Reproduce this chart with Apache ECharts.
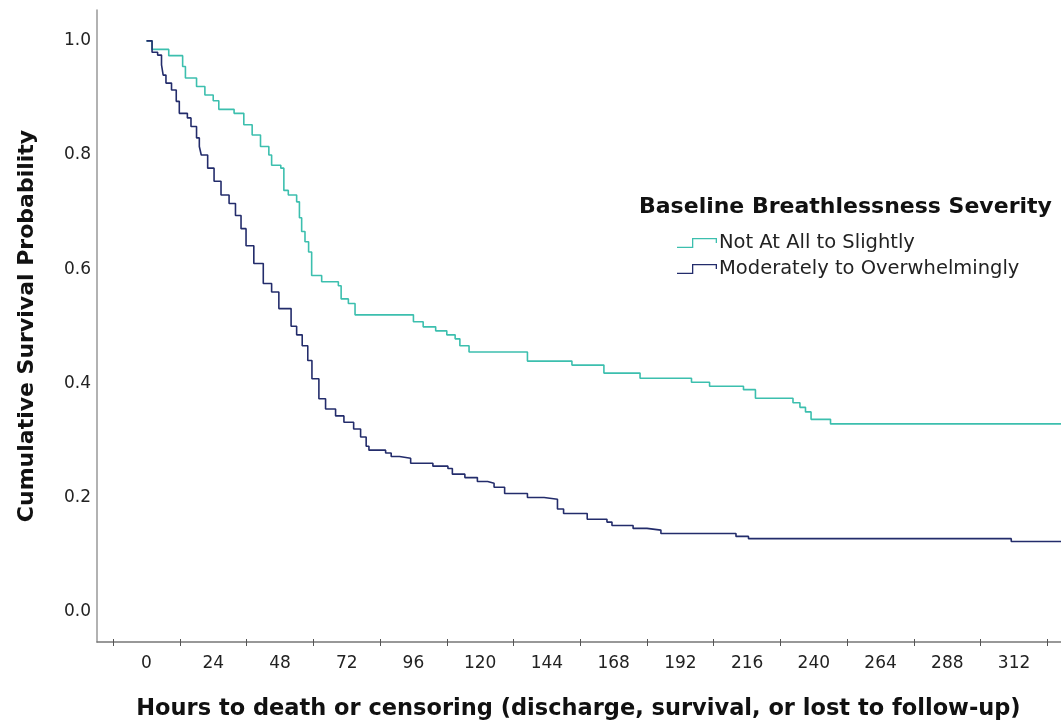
<!DOCTYPE html>
<html>
<head>
<meta charset="utf-8">
<script src="https://cdn.jsdelivr.net/npm/echarts@6/dist/echarts.min.js"></script>
<style>
  html, body { margin: 0; padding: 0; background: #fff; overflow: hidden; }
  #chart { width: 1100px; height: 727px; }
</style>
</head>
<body>
<div id="chart"></div>
<script>
// Kaplan-Meier estimates [hours, cumulative survival]
const notAtAllToSlightly = [
    [0, 1.0], [2, 0.985], [8, 0.974], [13, 0.955], [14, 0.935], [18, 0.92], [21, 0.905],
    [24, 0.895], [26, 0.88], [31.5, 0.873], [35, 0.853], [38, 0.835], [41, 0.815],
    [44, 0.8], [45, 0.782], [48.3, 0.777], [49.4, 0.738], [51, 0.73], [54, 0.718],
    [55, 0.69], [55.8, 0.666], [57, 0.648], [58.3, 0.63], [59.4, 0.589], [63, 0.578],
    [69, 0.571], [70, 0.548], [72.6, 0.54], [75, 0.52], [96, 0.508], [99.5, 0.499],
    [104, 0.492], [108, 0.485], [111, 0.478], [112.7, 0.466], [116, 0.455], [137, 0.439],
    [153, 0.432], [164.5, 0.418], [177.5, 0.409], [196, 0.402], [202.5, 0.395],
    [214.7, 0.389], [219, 0.374], [232.5, 0.366], [235, 0.358], [237, 0.35], [239, 0.337],
    [246, 0.329], [340, 0.329]
];

const moderatelyToOverwhelmingly = [
    [0, 1.0], [2, 0.98], [4, 0.975], [5.4, 0.958], [6, 0.94], [7, 0.926], [9, 0.914],
    [10.7, 0.894], [11.8, 0.873], [14.7, 0.865], [16, 0.85], [18, 0.83], [19, 0.815],
    [19.7, 0.8], [22, 0.777], [24.3, 0.754], [26.8, 0.73], [29.7, 0.715], [32, 0.694],
    [34, 0.671], [35.8, 0.641], [38.6, 0.61], [42, 0.575], [45, 0.56], [47.6, 0.531],
    [52, 0.5], [54, 0.485], [56, 0.466], [58, 0.44], [59.5, 0.408], [62, 0.373],
    [64.4, 0.355], [68, 0.343], [71, 0.332], [74.5, 0.32], [77, 0.306], [79, 0.29],
    [80, 0.283], [86, 0.278], [88, 0.272], [91, 0.269], [95, 0.26], [103, 0.255],
    [108.4, 0.251], [110, 0.241], [114.5, 0.235], [119, 0.228], [122.7, 0.225],
    [125, 0.218], [128.8, 0.207], [137, 0.2], [143, 0.197], [147.8, 0.18], [150, 0.172],
    [158.5, 0.162], [165.6, 0.157], [167.4, 0.151], [175, 0.146], [180, 0.143],
    [185, 0.137], [212, 0.132], [216.5, 0.128], [311, 0.123], [340, 0.123]
];

const xLabelValues = [0, 24, 48, 72, 96, 120, 144, 168, 192, 216, 240, 264, 288, 312, 336];
const xTickValues = [-12, 12, 36, 60, 84, 108, 132, 156, 180, 204, 228, 252, 276, 300, 324];
const yLabelValues = [0, 0.2, 0.4, 0.6, 0.8, 1.0];

const seriesNames = ['Not At All to Slightly', 'Moderately to Overwhelmingly'];
const seriesColors = ['#3cbfae', '#232c6b'];

const font = '"DejaVu Sans", sans-serif';
const stepIcon = 'path://M0 8.7 L15 8.7 L15 0 L40 0 L40 5 L38.7 5 L38.7 1.3 L16.3 1.3 L16.3 10 L0 10 Z';

const xRange = { min: -17.8, max: 340 };

const chart = echarts.init(document.getElementById('chart'));

chart.setOption({
    animation: false,
    backgroundColor: '#fff',
    color: seriesColors,
    title: {
        text: 'Baseline Breathlessness Severity',
        left: 639,
        top: 196,
        padding: 0,
        textStyle: { fontFamily: font, fontSize: 22, fontWeight: 'bold', color: '#111' }
    },
    legend: {
        orient: 'vertical',
        left: 677,
        top: 233,
        padding: 0,
        itemGap: 6,
        itemWidth: 40,
        itemHeight: 10,
        data: seriesNames.map(name => ({ name, icon: stepIcon })),
        textStyle: { fontFamily: font, fontSize: 19.5, color: '#222', padding: [0, 0, 0, -3] }
    },
    grid: { left: 97, top: 10, right: 3, bottom: 85 },
    xAxis: [
        {
            type: 'value',
            ...xRange,
            name: 'Hours to death or censoring (discharge, survival, or lost to follow-up)',
            nameLocation: 'middle',
            nameGap: 56,
            nameTextStyle: {
                fontFamily: font, fontSize: 22.5, fontWeight: 'bold', color: '#111',
                padding: [0, 32, 0, 0]
            },
            axisLine: { show: true, onZero: false, lineStyle: { color: '#777', width: 1.5 } },
            axisTick: { show: true, customValues: xTickValues, length: 4, lineStyle: { color: '#555' } },
            axisLabel: {
                customValues: xLabelValues,
                margin: 13,
                fontFamily: font, fontSize: 17, color: '#222'
            },
            splitLine: { show: false }
        },
        {
            // second axis only to draw the upper half of the crossing ticks
            type: 'value',
            ...xRange,
            position: 'bottom',
            axisLine: { show: false, onZero: false },
            axisTick: { show: true, inside: true, customValues: xTickValues, length: 3, lineStyle: { color: '#555' } },
            axisLabel: { show: false },
            splitLine: { show: false }
        }
    ],
    yAxis: {
        type: 'value',
        min: -0.053,
        max: 1.054,
        name: 'Cumulative Survival Probability',
        nameLocation: 'middle',
        nameGap: 59,
        nameTextStyle: { fontFamily: font, fontSize: 22, fontWeight: 'bold', color: '#111' },
        axisLine: { show: true, onZero: false, lineStyle: { color: '#999', width: 1.5 } },
        axisTick: { show: false },
        axisLabel: {
            customValues: yLabelValues,
            formatter: v => v.toFixed(1),
            margin: 6,
            fontFamily: font, fontSize: 17, color: '#222'
        },
        splitLine: { show: false }
    },
    series: [
        {
            name: seriesNames[0],
            type: 'line',
            step: 'end',
            symbol: 'none',
            data: notAtAllToSlightly,
            lineStyle: { width: 1.6 }
        },
        {
            name: seriesNames[1],
            type: 'line',
            step: 'end',
            symbol: 'none',
            data: moderatelyToOverwhelmingly,
            lineStyle: { width: 1.6 }
        }
    ]
});
</script>
</body>
</html>
